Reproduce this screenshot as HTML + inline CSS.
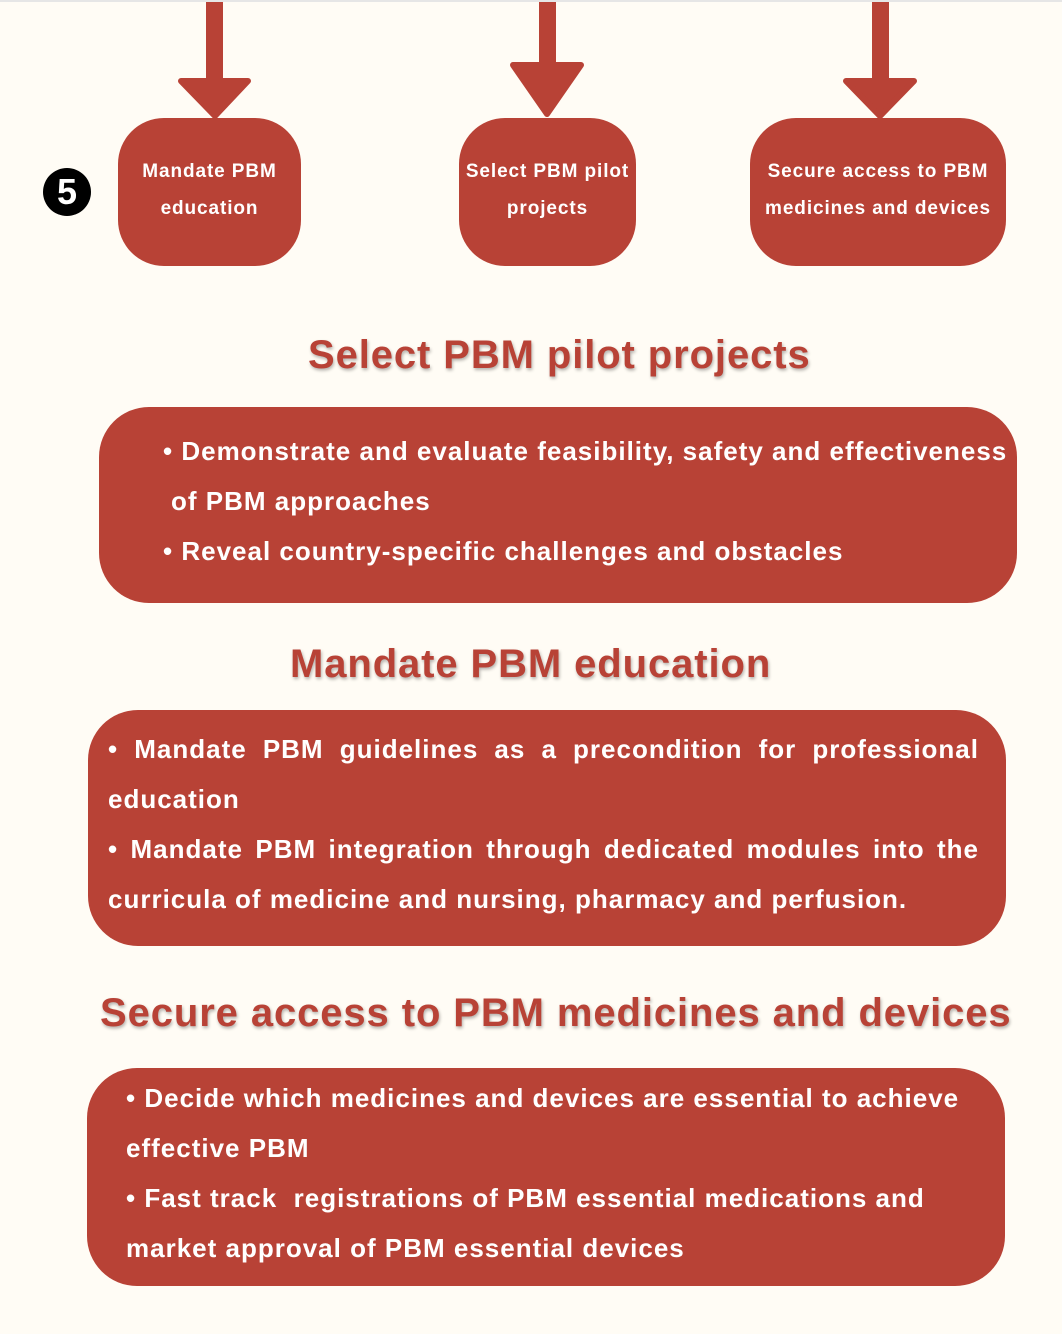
<!DOCTYPE html>
<html><head><meta charset="utf-8"><style>
body{margin:0;width:1062px;height:1334px;background:#fffcf5;position:relative;overflow:hidden;font-family:"Liberation Sans",Arial,sans-serif;font-weight:bold}
.top{position:absolute;left:0;top:0;width:1062px;height:2px;background:#e6e6e6}
.sb{position:absolute;background:#b84236;color:#fff;text-align:center;font-size:19px;line-height:37px;letter-spacing:0.9px;display:flex;align-items:center;justify-content:center;padding-bottom:4px;box-sizing:border-box}
.h{position:absolute;color:#b84236;font-size:40px;letter-spacing:0.9px;text-shadow:1px 2px 3px rgba(0,0,0,.3);white-space:nowrap;line-height:46px}
.bx{position:absolute;background:#b84236;color:#fff;font-size:26px;line-height:50px;letter-spacing:1px;box-sizing:border-box;white-space:nowrap}
.bx p{margin:0}
.c{position:absolute;left:43px;top:168px;width:48px;height:48px;border-radius:50%;background:#000;color:#fff;font-size:36px;line-height:48px;text-align:center}
</style></head><body>
<div class="top"></div>
<svg width="1062" height="130" style="position:absolute;left:0;top:0">
<g fill="#b84236" stroke="#b84236" stroke-linejoin="round" stroke-width="6">
<rect x="206" y="2" width="17" height="80" stroke="none"/>
<polygon points="181,81 248,81 215,116"/>
<rect x="539" y="2" width="17" height="65" stroke="none"/>
<polygon points="513,65 581,65 547,114"/>
<rect x="872" y="2" width="17" height="80" stroke="none"/>
<polygon points="846,81 914,81 880,116"/>
</g></svg>
<div class="c">5</div>
<div class="sb" style="left:118px;top:118px;width:183px;height:148px;border-radius:46px">Mandate PBM<br>education</div>
<div class="sb" style="left:459px;top:118px;width:177px;height:148px;border-radius:46px">Select PBM pilot<br>projects</div>
<div class="sb" style="left:750px;top:118px;width:256px;height:148px;border-radius:46px">Secure access to PBM<br>medicines and devices</div>
<div class="h" style="left:308px;top:332px">Select PBM pilot projects</div>
<div class="bx" style="left:99px;top:407px;width:918px;height:196px;border-radius:50px;padding:19px 0 0 64px">
<p>• Demonstrate and evaluate feasibility, safety and effectiveness</p>
<p style="padding-left:8px">of PBM approaches</p>
<p>• Reveal country-specific challenges and obstacles</p></div>
<div class="h" style="left:290px;top:641px">Mandate PBM education</div>
<div class="bx" style="left:88px;top:710px;width:918px;height:236px;border-radius:50px;padding:14px 27px 0 20px;text-align:justify;text-align-last:left;white-space:normal">
<p style="text-align-last:justify">• Mandate PBM guidelines as a precondition for professional</p>
<p>education</p>
<p style="text-align-last:justify">• Mandate PBM integration through dedicated modules into the</p>
<p style="white-space:nowrap">curricula of medicine and nursing, pharmacy and perfusion.</p></div>
<div class="h" style="left:100px;top:990px">Secure access to PBM medicines and devices</div>
<div class="bx" style="left:87px;top:1068px;width:918px;height:218px;border-radius:50px;padding:5px 0 0 39px">
<p>• Decide which medicines and devices are essential to achieve</p>
<p>effective PBM</p>
<p>• Fast track&nbsp; registrations of PBM essential medications and</p>
<p>market approval of PBM essential devices</p></div>
</body></html>
